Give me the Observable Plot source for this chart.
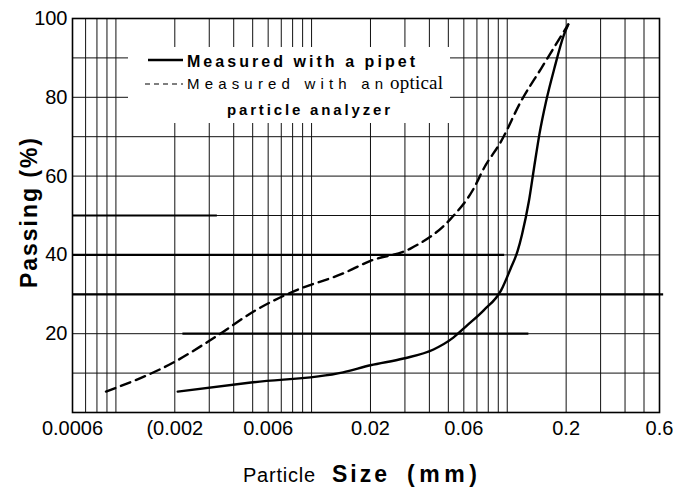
<!DOCTYPE html>
<html><head><meta charset="utf-8">
<script src="https://cdn.jsdelivr.net/npm/d3@7"></script>
<script src="https://cdn.jsdelivr.net/npm/@observablehq/plot@0.6"></script>
<style>body{margin:0;background:#fff} svg{display:block}</style>
</head><body><div id="chart"></div>
<script>
// Measured with a pipet
const pipetSize =    [0.00207, 0.0049, 0.0145, 0.020, 0.0295, 0.042, 0.053, 0.062, 0.076, 0.093, 0.104, 0.113, 0.119, 0.129, 0.137, 0.146, 0.158, 0.174, 0.195, 0.205];
const pipetPassing = [5.3,     7.6,    10.2,   12.0,  13.7,   16.0,  19.0,  22.0,  26.0,  31.0,  36.5,  41.0,  45.2,  53.6,  62.0,  70.6,  79.0,  87.3,  95.9,  98.5];
// Measured with an optical particle analyzer
const opticalSize =    [0.00089, 0.00202, 0.00325, 0.0052, 0.00805, 0.0145, 0.020, 0.032, 0.0515, 0.0675, 0.076, 0.093, 0.1176, 0.149, 0.205];
const opticalPassing = [5.3,     13.0,    19.3,    26.0,   30.7,    35.3,   38.5,  41.6,  49.2,   56.9,   62.0,  68.8,  79.0,   87.3,  98.5];

const xTickValues = [0.0006, 0.002, 0.006, 0.02, 0.06, 0.2, 0.6];
const xTickLabels = ["0.0006", "(0.002", "0.006", "0.02", "0.06", "0.2", "0.6"];
const yTickValues = [20, 40, 60, 80, 100];
const yTickLabels = ["20", "40", "60", "80", "100"];

const gridSizes = [0.0006, 0.0007, 0.0008, 0.0009, 0.001,
  0.002, 0.003, 0.004, 0.005, 0.006, 0.007, 0.008, 0.009, 0.01,
  0.02, 0.03, 0.04, 0.05, 0.06, 0.07, 0.08, 0.09, 0.1,
  0.2, 0.3, 0.4, 0.5, 0.6];
const gridPassing = [10, 20, 30, 40, 50, 60, 70, 80, 90, 100];

// heavier ruled segments visible on the graph paper
const heavyPassing = [50, 40, 30, 20];
const heavyFrom =    [0.0006, 0.0006, 0.0006, 0.0022];
const heavyTo =      [0.0033, 0.097, 0.63, 0.129];

const pipet = pipetSize.map((d, i) => ({size: d, passing: pipetPassing[i]}));
const optical = opticalSize.map((d, i) => ({size: d, passing: opticalPassing[i]}));
const heavy = heavyPassing.map((d, i) => ({y: d, x1: heavyFrom[i], x2: heavyTo[i]}));
const xTicks = xTickValues.map((d, i) => ({size: d, label: xTickLabels[i]}));

const font = "'Liberation Sans', Arial, Helvetica, sans-serif";

const plot = Plot.plot({
  width: 673,
  height: 495,
  marginLeft: 72,
  marginRight: 14,
  marginTop: 18,
  marginBottom: 83,
  style: {fontFamily: font, background: "#fff", color: "#000"},
  x: {type: "log", domain: [0.0006, 0.6], axis: null},
  y: {domain: [0, 100]},
  marks: [
    Plot.ruleX(gridSizes, {stroke: "#111", strokeWidth: 1}),
    Plot.ruleY(gridPassing, {stroke: "#111", strokeWidth: 1}),
    Plot.ruleY(heavy, {y: "y", x1: "x1", x2: "x2", stroke: "#000", strokeWidth: 2.2, clip: false}),
    Plot.frame({stroke: "#000", strokeWidth: 1.6}),
    Plot.text(xTicks, {x: "size", text: "label", frameAnchor: "bottom", lineAnchor: "top", dy: 8, fontSize: 20, fill: "#000"}),
    Plot.axisY({ticks: yTickValues, tickFormat: (d, i) => yTickLabels[i], tickSize: 0, tickPadding: 5, fontSize: 20, label: null}),
    Plot.line(pipet, {x: "size", y: "passing", curve: "monotone-x", stroke: "#000", strokeWidth: 2.4}),
    Plot.line(optical, {x: "size", y: "passing", curve: "monotone-x", stroke: "#000", strokeWidth: 2.4, strokeDasharray: "10,6"})
  ]
});

const svg = d3.select(plot);

// legend box
const lg = svg.append("g").attr("text-anchor", "start");
lg.append("rect").attr("x", 128).attr("y", 47).attr("width", 322).attr("height", 76).attr("fill", "#fff");
lg.append("line").attr("x1", 148).attr("x2", 183).attr("y1", 60).attr("y2", 60).attr("stroke", "#000").attr("stroke-width", 2.4);
lg.append("text").attr("x", 187).attr("y", 67).attr("font-family", font).attr("font-size", 16).attr("font-weight", "bold")
  .attr("textLength", 228).attr("lengthAdjust", "spacing").text("Measured with a pipet");
lg.append("line").attr("x1", 145).attr("x2", 183).attr("y1", 84).attr("y2", 84).attr("stroke", "#000").attr("stroke-width", 1.2).attr("stroke-dasharray", "5,4");
lg.append("text").attr("x", 187).attr("y", 89).attr("font-family", font).attr("font-size", 15)
  .attr("textLength", 196).attr("lengthAdjust", "spacing").text("Measured with an");
lg.append("text").attr("x", 390).attr("y", 89).attr("font-family", "'Liberation Serif', 'Times New Roman', serif").attr("font-size", 19)
  .attr("textLength", 53).attr("lengthAdjust", "spacing").text("optical");
lg.append("text").attr("x", 227).attr("y", 115).attr("font-family", font).attr("font-size", 15).attr("font-weight", "bold")
  .attr("textLength", 163).attr("lengthAdjust", "spacing").text("particle analyzer");

// y-axis title
svg.append("text").attr("transform", "translate(37,213) rotate(-90)").attr("text-anchor", "middle")
  .attr("font-family", font).attr("font-size", 23).attr("font-weight", "bold")
  .attr("textLength", 150).attr("lengthAdjust", "spacing").text("Passing (%)");

// x-axis title
const xt = svg.append("g").attr("text-anchor", "start").attr("font-family", font);
xt.append("text").attr("x", 243).attr("y", 482).attr("font-size", 20)
  .attr("textLength", 72).attr("lengthAdjust", "spacing").text("Particle");
xt.append("text").attr("x", 332).attr("y", 482).attr("font-size", 23).attr("font-weight", "bold")
  .attr("textLength", 55).attr("lengthAdjust", "spacing").text("Size");
xt.append("text").attr("x", 407).attr("y", 482).attr("font-size", 23).attr("font-weight", "bold")
  .attr("textLength", 70).attr("lengthAdjust", "spacing").text("(mm)");

document.getElementById("chart").appendChild(plot);
</script>
</body></html>
